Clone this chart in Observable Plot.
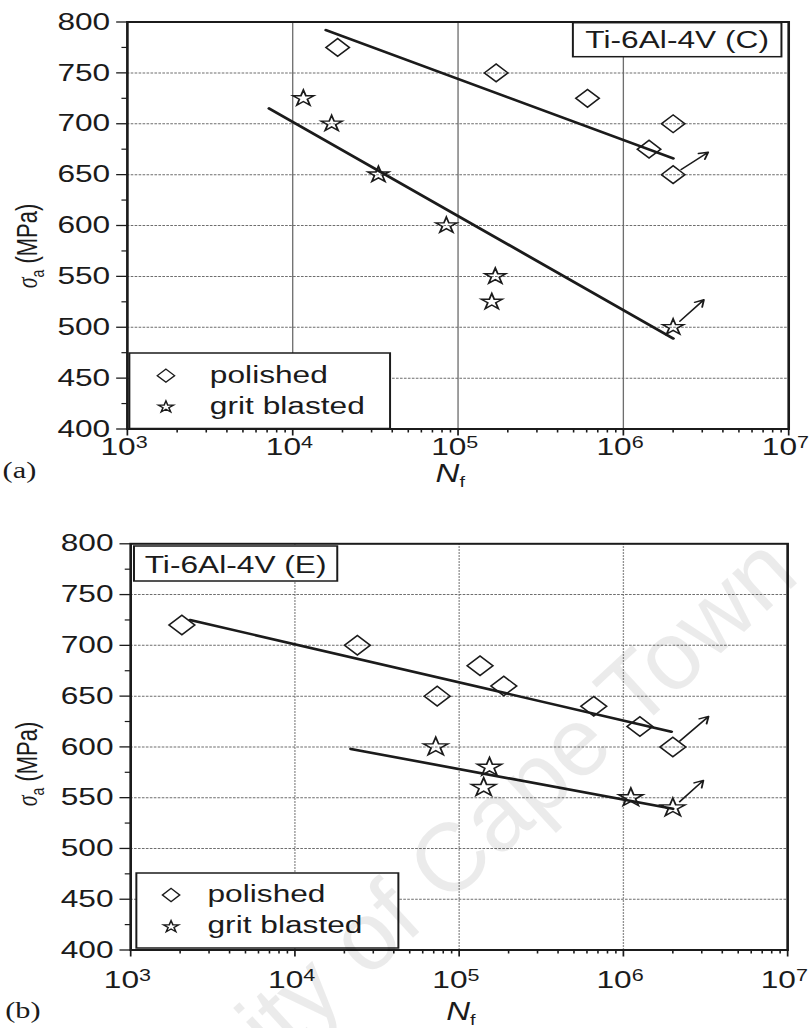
<!DOCTYPE html>
<html>
<head>
<meta charset="utf-8">
<script src="https://cdn.jsdelivr.net/npm/d3@7"></script>
<script src="https://cdn.jsdelivr.net/npm/@observablehq/plot@0.6"></script>
<style>
  body { margin: 0; background: #fff; }
  #wrap { position: relative; width: 809px; height: 1028px; overflow: hidden; background: #fff; }
  .panel { position: absolute; left: 0; transform: scaleX(1.32); transform-origin: 0 0; }
  #wm { position: absolute; left: 0; top: 0; pointer-events: none; }
</style>
</head>
<body>
<div id="wrap"></div>
<script>
// ---------- axis ticks & labels ----------
const xTicks = [1e3, 1e4, 1e5, 1e6, 1e7];
const xTickExponents = ["3", "4", "5", "6", "7"];
const xMinorTicks = [2e3,3e3,4e3,5e3,6e3,7e3,8e3,9e3, 2e4,3e4,4e4,5e4,6e4,7e4,8e4,9e4,
                     2e5,3e5,4e5,5e5,6e5,7e5,8e5,9e5, 2e6,3e6,4e6,5e6,6e6,7e6,8e6,9e6];
const xGridLines = [1e4, 1e5, 1e6];
const yTicks = [400, 450, 500, 550, 600, 650, 700, 750, 800];
const yMinorTicks = [425, 475, 525, 575, 625, 675, 725, 775];
const yGridLines = [450, 500, 550, 600, 650, 700, 750];
const seriesNames = ["polished", "grit blasted"];
const panelTitles = ["Ti-6Al-4V (C)", "Ti-6Al-4V (E)"];
const panelTags = ["(a)", "(b)"];

// ---------- panel (a): Ti-6Al-4V (C) ----------
const cPolishedN = [1.87e4, 1.70e5, 6.07e5, 1.43e6, 2.0e6, 2.0e6];
const cPolishedS = [775, 750, 725, 675, 700, 650];
const cGritN = [1.16e4, 1.72e4, 3.3e4, 8.5e4, 1.68e5, 1.6e5, 2.0e6];
const cGritS = [725, 700, 650, 600, 550, 525, 500];
const cPolishedFitN = [1.59e4, 2.0e6];
const cPolishedFitS = [792, 666];
const cGritFitN = [7.2e3, 2.0e6];
const cGritFitS = [715, 489];
const cRunoutN1 = [2.0e6, 2.0e6];
const cRunoutS1 = [650, 500];
const cRunoutN2 = [3.26e6, 3.07e6];
const cRunoutS2 = [672, 527];

// ---------- panel (b): Ti-6Al-4V (E) ----------
const ePolishedN = [2.05e3, 2.4e4, 7.35e4, 1.34e5, 1.87e5, 6.6e5, 1.26e6, 2.0e6];
const ePolishedS = [720, 700, 650, 680, 660, 640, 620, 600];
const eGritN = [7.2e4, 1.53e5, 1.41e5, 1.11e6, 2.0e6];
const eGritS = [600, 580, 560, 550, 540];
const ePolishedFitN = [2.3e3, 1.96e6];
const ePolishedFitS = [725, 615];
const eGritFitN = [2.19e4, 2.0e6];
const eGritFitS = [598, 539];
const eRunoutN1 = [2.0e6, 2.0e6];
const eRunoutS1 = [600, 540];
const eRunoutN2 = [3.3e6, 3.07e6];
const eRunoutS2 = [630, 567];

const INK = "#1b1b1b";
const FONT = "'Liberation Sans', Arial, Helvetica, sans-serif";

function rows(N, S) { return N.map((n, i) => ({N: n, S: S[i]})); }
function arrows(N1, S1, N2, S2) { return N1.map((n, i) => ({x1: n, y1: S1[i], x2: N2[i], y2: S2[i]})); }

function makePanel(o) {
  const svg = Plot.plot({
    width: 613,
    height: o.height,
    marginLeft: o.ml, marginRight: o.mr, marginTop: o.mt, marginBottom: o.mb,
    style: {fontFamily: FONT, fontSize: "24px", color: INK, background: "transparent", overflow: "visible"},
    x: {type: "log", domain: [1e3, 1e7]},
    y: {domain: [400, 800]},
    marks: [
      Plot.ruleY(yGridLines, {stroke: "#6e6e6e", strokeWidth: 1, strokeDasharray: "2,1"}),
      Plot.ruleX(xGridLines, {stroke: "#6e6e6e", strokeWidth: 1, strokeDasharray: o.vdash}),
      Plot.line(rows(o.polFitN, o.polFitS), {x: "N", y: "S", stroke: INK, strokeWidth: 2.6}),
      Plot.line(rows(o.gritFitN, o.gritFitS), {x: "N", y: "S", stroke: INK, strokeWidth: 2.6}),
      Plot.dot(rows(o.polN, o.polS), {x: "N", y: "S", symbol: "diamond2", r: o.rDia, stroke: INK, strokeWidth: 1.4, fill: "none"}),
      Plot.dot(rows(o.gritN, o.gritS), {x: "N", y: "S", symbol: "star", r: o.rStar, stroke: INK, strokeWidth: 1.4, fill: "none"}),
      Plot.arrow(arrows(o.runN1, o.runS1, o.runN2, o.runS2), {x1: "x1", y1: "y1", x2: "x2", y2: "y2", stroke: INK, strokeWidth: 1.4, headLength: 8, insetStart: 8}),
      Plot.frame({stroke: INK, strokeWidth: 2}),
      Plot.axisY(yTicks, {anchor: "left", tickSize: 8, tickPadding: 5, label: null, strokeWidth: 1.3}),
      Plot.axisY(yMinorTicks, {anchor: "left", tickSize: 4, tickFormat: () => "", label: null, strokeWidth: 1.2}),
      Plot.axisX(xTicks, {anchor: "bottom", tickSize: 7, tickPadding: o.xPad, label: null, strokeWidth: 1.3,
        tickFormat: d => "10^" + xTickExponents[xTicks.indexOf(d)]}),
      Plot.axisX(xMinorTicks, {anchor: "bottom", tickSize: 4, tickFormat: () => "", label: null, strokeWidth: 1.2})
    ]
  });
  svg.setAttribute("class", (svg.getAttribute("class") || "") + " panel");
  svg.style.top = o.top + "px";

  // superscript exponents on x tick labels
  svg.querySelectorAll("text").forEach(t => {
    const s = t.textContent;
    if (s.startsWith("10^")) {
      const [base, exp] = s.split("^");
      t.textContent = "";
      t.setAttribute("dx", "-2.5");
      const sel = d3.select(t);
      sel.append("tspan").text(base);
      sel.append("tspan").attr("dy", "-0.42em").attr("font-size", "0.68em").text(exp);
    }
  });

  const g = d3.select(svg).append("g").attr("font-family", FONT).attr("fill", INK).attr("text-anchor", "start");

  // title box
  g.append("rect").attr("x", o.tb[0]).attr("y", o.tb[1]).attr("width", o.tb[2] - o.tb[0]).attr("height", o.tb[3] - o.tb[1])
    .attr("fill", "white").attr("stroke", INK).attr("stroke-width", 1.5);
  g.append("text").attr("x", (o.tb[0] + o.tb[2]) / 2).attr("y", o.tbBase).attr("text-anchor", "middle")
    .attr("font-size", 24).text(o.title);

  // legend box
  const L = o.lg;
  g.append("rect").attr("x", L.x0).attr("y", L.y0).attr("width", L.x1 - L.x0).attr("height", L.y1 - L.y0)
    .attr("fill", "white").attr("stroke", INK).attr("stroke-width", 1.5);
  g.append("path").attr("transform", `translate(${L.sx},${L.sy[0]})`)
    .attr("d", d3.symbol(d3.symbolDiamond2, 110)()).attr("fill", "none").attr("stroke", INK).attr("stroke-width", 1.2);
  g.append("path").attr("transform", `translate(${L.sx},${L.sy[1]})`)
    .attr("d", d3.symbol(d3.symbolStar, 42)()).attr("fill", "none").attr("stroke", INK).attr("stroke-width", 1.2);
  seriesNames.forEach((name, i) => {
    g.append("text").attr("x", L.tx).attr("y", L.tb[i]).attr("font-size", 24).text(name);
  });

  // y axis title: sigma_a (MPa)
  const yl = g.append("text").attr("transform", `translate(${o.ylx},${o.yly}) rotate(-90)`)
    .attr("text-anchor", "middle").attr("font-size", 22);
  yl.append("tspan").attr("font-family", "'Liberation Serif', 'DejaVu Serif', serif").attr("font-style", "italic").text("σ");
  yl.append("tspan").attr("font-size", 14).attr("dy", 5).text("a");
  yl.append("tspan").attr("dy", -5).text(" (MPa)");

  // x axis title: N_f
  const xl = g.append("text").attr("x", o.nx).attr("y", o.ny).attr("font-size", 25);
  xl.append("tspan").attr("font-style", "italic").text("N");
  xl.append("tspan").attr("font-size", 15).attr("dy", 5).text("f");

  // panel tag
  g.append("text").attr("x", o.tagx).attr("y", o.tagy).attr("font-family", "'Liberation Serif', 'Times New Roman', serif")
    .attr("font-size", 23).text(o.tag);

  return svg;
}

const wrap = document.getElementById("wrap");

wrap.appendChild(makePanel({
  top: 0, height: 521, ml: 96, mr: 16, mt: 21.5, mb: 92.5, xPad: 2, vdash: null,
  polN: cPolishedN, polS: cPolishedS, gritN: cGritN, gritS: cGritS,
  polFitN: cPolishedFitN, polFitS: cPolishedFitS, gritFitN: cGritFitN, gritFitS: cGritFitS,
  runN1: cRunoutN1, runS1: cRunoutS1, runN2: cRunoutN2, runS2: cRunoutS2,
  rDia: 8, rStar: 5,
  title: panelTitles[0], tb: [434, 22.7, 592, 56.7], tbBase: 48.5,
  lg: {x0: 98, y0: 353, x1: 295.5, y1: 428.5, sx: 125.7, sy: [375.7, 407], tx: 159, tb: [383, 414.3]},
  ylx: 28, yly: 246, nx: 330, ny: 482, tagx: 2, tagy: 478, tag: panelTags[0]
}));

wrap.appendChild(makePanel({
  top: 521, height: 507, ml: 98.5, mr: 16.8, mt: 22.3, mb: 78.5, xPad: 14, vdash: "1.5,1.5",
  polN: ePolishedN, polS: ePolishedS, gritN: eGritN, gritS: eGritS,
  polFitN: ePolishedFitN, polFitS: ePolishedFitS, gritFitN: eGritFitN, gritFitS: eGritFitS,
  runN1: eRunoutN1, runS1: eRunoutS1, runN2: eRunoutN2, runS2: eRunoutS2,
  rDia: 8.8, rStar: 5.8,
  title: panelTitles[1], tb: [101.5, 25, 255.5, 60], tbBase: 52,
  lg: {x0: 103.3, y0: 352, x1: 301.8, y1: 427, sx: 129.6, sy: [374, 405.7], tx: 157.2, tb: [381.3, 412.3]},
  ylx: 28, yly: 243, nx: 338, ny: 499, tagx: 4, tagy: 497, tag: panelTags[1]
}));

// light diagonal watermark across the lower panel
const wm = d3.select(wrap).append("svg").attr("id", "wm").attr("width", 809).attr("height", 1028);
wm.append("text").attr("transform", "translate(418,933) rotate(-42.7)")
  .attr("text-anchor", "middle").attr("font-family", FONT).attr("font-size", 97)
  .attr("fill", "rgba(0,0,0,0.08)").text("University of Cape Town");
</script>
</body>
</html>
